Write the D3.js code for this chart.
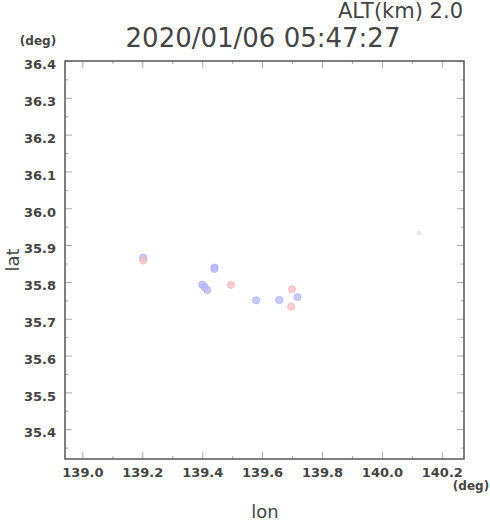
<!DOCTYPE html>
<html><head><meta charset="utf-8">
<script src="https://cdn.jsdelivr.net/npm/d3@7"></script>
<style>
html,body{margin:0;padding:0;background:#fff;}
svg{display:block;}
</style></head>
<body>
<script>
// ---- data ----
const lonVals = [139.203, 139.203, 139.441, 139.441, 139.400, 139.408, 139.417, 139.496, 139.580, 139.657, 139.700, 139.718, 139.697, 140.124];
const latVals = [35.866, 35.858, 35.839, 35.835, 35.793, 35.786, 35.778, 35.792, 35.750, 35.751, 35.780, 35.759, 35.733, 35.933];
const kinds   = ['b','r','b','b','b','b','b','r','b','b','r','b','r','g'];
const xMajorTicks = [139.0, 139.2, 139.4, 139.6, 139.8, 140.0, 140.2];
const xMinorTicks = [139.1, 139.3, 139.5, 139.7, 139.9, 140.1];
const yMajorTicks = [35.4, 35.5, 35.6, 35.7, 35.8, 35.9, 36.0, 36.1, 36.2, 36.3, 36.4];
const yMinorTicks = [35.35, 35.45, 35.55, 35.65, 35.75, 35.85, 35.95, 36.05, 36.15, 36.25, 36.35];
const titleText = "2020/01/06 05:47:27";
const altText = "ALT(km) 2.0";

const W = 490, H = 521;
const L = 65, R = 464, T = 61, B = 459;
const x = d3.scaleLinear().domain([138.942, 140.274]).range([L, R]);
const y = d3.scaleLinear().domain([35.319, 36.4]).range([B, T]);

const svg = d3.select("body").append("svg").attr("width", W).attr("height", H);

const fill = {b: "rgba(180,184,255,0.75)", r: "rgba(255,185,185,0.75)", g: "rgba(205,205,225,0.5)"};
const edge = {b: "rgba(150,155,248,0.6)", r: "rgba(240,160,170,0.6)", g: "rgba(205,205,225,0.3)"};

// points
const pts = lonVals.map((v, i) => ({lon: v, lat: latVals[i], k: kinds[i]}));
const order = {g: 0, b: 1, r: 2};
pts.sort((a, b) => order[a.k] - order[b.k]);
svg.append("g").selectAll("circle").data(pts).join("circle")
  .attr("cx", d => x(d.lon)).attr("cy", d => y(d.lat))
  .attr("r", d => d.k === 'g' ? 2 : 3.6)
  .attr("fill", d => fill[d.k])
  .attr("stroke", d => edge[d.k]).attr("stroke-width", 0.8);

// axes (ticks inside)
function styleAxis(g) {
  g.select(".domain").remove();
  g.selectAll(".tick line").attr("stroke", "#aaa").attr("stroke-width", 1);
}
const tickFont = "'DejaVu Sans', sans-serif";

// bottom
const gxb = svg.append("g").attr("transform", `translate(0,${B})`)
  .call(d3.axisBottom(x).tickValues(xMajorTicks).tickSize(-7).tickPadding(9).tickFormat(d3.format(".1f")));
styleAxis(gxb);
gxb.selectAll("text").attr("font-family", tickFont).attr("font-weight", "bold").attr("font-size", 13).attr("fill", "#444");
const gxbm = svg.append("g").attr("transform", `translate(0,${B})`)
  .call(d3.axisBottom(x).tickValues(xMinorTicks).tickSize(-3).tickFormat(""));
styleAxis(gxbm);
// top
const gxt = svg.append("g").attr("transform", `translate(0,${T})`)
  .call(d3.axisTop(x).tickValues(xMajorTicks).tickSize(-7).tickFormat(""));
styleAxis(gxt);
const gxtm = svg.append("g").attr("transform", `translate(0,${T})`)
  .call(d3.axisTop(x).tickValues(xMinorTicks).tickSize(-3).tickFormat(""));
styleAxis(gxtm);
// left
const gyl = svg.append("g").attr("transform", `translate(${L},0)`)
  .call(d3.axisLeft(y).tickValues(yMajorTicks).tickSize(-7).tickPadding(9).tickFormat(d3.format(".1f")));
styleAxis(gyl);
gyl.selectAll("text").attr("font-family", tickFont).attr("font-weight", "bold").attr("font-size", 13).attr("fill", "#444").attr("dy", "0.6em");
const gylm = svg.append("g").attr("transform", `translate(${L},0)`)
  .call(d3.axisLeft(y).tickValues(yMinorTicks).tickSize(-3).tickFormat(""));
styleAxis(gylm);
// right
const gyr = svg.append("g").attr("transform", `translate(${R},0)`)
  .call(d3.axisRight(y).tickValues(yMajorTicks).tickSize(-7).tickFormat(""));
styleAxis(gyr);
const gyrm = svg.append("g").attr("transform", `translate(${R},0)`)
  .call(d3.axisRight(y).tickValues(yMinorTicks).tickSize(-3).tickFormat(""));
styleAxis(gyrm);

// frame
svg.append("rect").attr("x", L).attr("y", T).attr("width", R - L).attr("height", B - T)
  .attr("fill", "none").attr("stroke", "#555").attr("stroke-width", 1.5);

// texts
const txt = (s, xx, yy, size, weight, anchor) => svg.append("text").text(s)
  .attr("x", xx).attr("y", yy).attr("font-family", "'DejaVu Sans', sans-serif")
  .attr("font-size", size).attr("font-weight", weight || "normal")
  .attr("text-anchor", anchor || "start").attr("fill", "#444");

txt(altText, 463, 18, 21, "normal", "end");
txt(titleText, 263, 47, 26, "normal", "middle");
txt("(deg)", 38, 45, 12, "bold", "middle");
txt("(deg)", 471, 490, 12, "bold", "middle");
txt("lon", 265, 518, 18, "normal", "middle");
svg.append("text").text("lat")
  .attr("transform", "translate(19,260) rotate(-90)")
  .attr("text-anchor", "middle").attr("font-family", "'DejaVu Sans', sans-serif")
  .attr("font-size", 18).attr("fill", "#444");
</script>
</body></html>
